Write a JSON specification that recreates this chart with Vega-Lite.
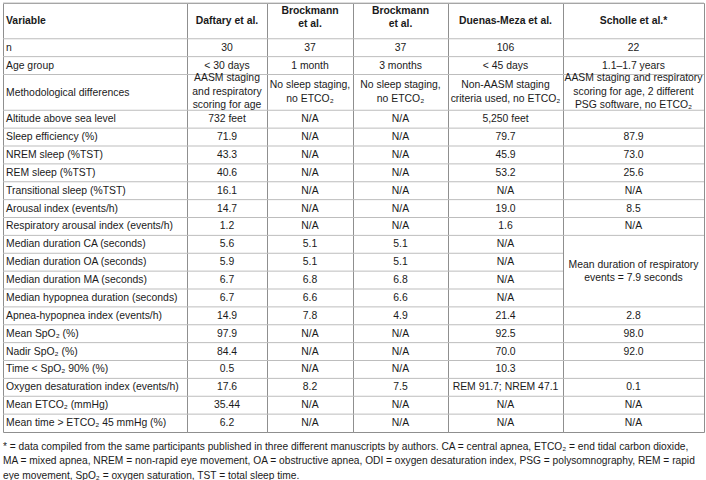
{
  "$schema": "https://vega.github.io/schema/vega-lite/v6.json",
  "padding": {"left": 2, "top": 2, "right": 0, "bottom": 0},
  "spacing": 0,
  "bounds": "flush",
  "config": {
    "view": {"stroke": "#8f8f8f", "strokeWidth": 1},
    "text": {"font": "Liberation Sans, Arial, sans-serif", "fontSize": 10.4, "color": "#1a1a1a", "lineBreak": "\n", "lineHeight": 13.3, "baseline": "middle"},
    "rule": {"color": "#bdbdbd", "strokeWidth": 1}
  },
  "title": {
    "text": [
      "* = data compiled from the same participants published in three different manuscripts by authors. CA = central apnea, ETCO₂ = end tidal carbon dioxide,",
      "MA = mixed apnea, NREM = non-rapid eye movement, OA = obstructive apnea, ODI = oxygen desaturation index, PSG = polysomnography, REM = rapid",
      "eye movement, SpO₂ = oxygen saturation, TST = total sleep time."
    ],
    "orient": "bottom", "anchor": "start", "frame": "group",
    "font": "Liberation Sans, Arial, sans-serif",
    "fontSize": 10.2, "fontWeight": "normal", "color": "#1a1a1a",
    "lineHeight": 14.6, "offset": 9, "baseline": "top"
  },
  "datasets": {
    "cells": [
      {"Variable": "Variable", "Study": "D", "Value": "Daftary et al."},
      {"Variable": "Variable", "Study": "B1", "Value": "Brockmann\net al."},
      {"Variable": "Variable", "Study": "B2", "Value": "Brockmann\net al."},
      {"Variable": "Variable", "Study": "DM", "Value": "Duenas-Meza et al."},
      {"Variable": "Variable", "Study": "S", "Value": "Scholle et al.*"},
      {"Variable": "n", "Study": "D", "Value": "30"},
      {"Variable": "n", "Study": "B1", "Value": "37"},
      {"Variable": "n", "Study": "B2", "Value": "37"},
      {"Variable": "n", "Study": "DM", "Value": "106"},
      {"Variable": "n", "Study": "S", "Value": "22"},
      {"Variable": "Age group", "Study": "D", "Value": "< 30 days"},
      {"Variable": "Age group", "Study": "B1", "Value": "1 month"},
      {"Variable": "Age group", "Study": "B2", "Value": "3 months"},
      {"Variable": "Age group", "Study": "DM", "Value": "< 45 days"},
      {"Variable": "Age group", "Study": "S", "Value": "1.1–1.7 years"},
      {"Variable": "Methodological differences", "Study": "D", "Value": "AASM staging\nand respiratory\nscoring for age"},
      {"Variable": "Methodological differences", "Study": "B1", "Value": "No sleep staging,\nno ETCO₂"},
      {"Variable": "Methodological differences", "Study": "B2", "Value": "No sleep staging,\nno ETCO₂"},
      {"Variable": "Methodological differences", "Study": "DM", "Value": "Non-AASM staging\ncriteria used, no ETCO₂"},
      {"Variable": "Methodological differences", "Study": "S", "Value": "AASM staging and respiratory\nscoring for age, 2 different\nPSG software, no ETCO₂"},
      {"Variable": "Altitude above sea level", "Study": "D", "Value": "732 feet"},
      {"Variable": "Altitude above sea level", "Study": "B1", "Value": "N/A"},
      {"Variable": "Altitude above sea level", "Study": "B2", "Value": "N/A"},
      {"Variable": "Altitude above sea level", "Study": "DM", "Value": "5,250 feet"},
      {"Variable": "Altitude above sea level", "Study": "S", "Value": ""},
      {"Variable": "Sleep efficiency (%)", "Study": "D", "Value": "71.9"},
      {"Variable": "Sleep efficiency (%)", "Study": "B1", "Value": "N/A"},
      {"Variable": "Sleep efficiency (%)", "Study": "B2", "Value": "N/A"},
      {"Variable": "Sleep efficiency (%)", "Study": "DM", "Value": "79.7"},
      {"Variable": "Sleep efficiency (%)", "Study": "S", "Value": "87.9"},
      {"Variable": "NREM sleep (%TST)", "Study": "D", "Value": "43.3"},
      {"Variable": "NREM sleep (%TST)", "Study": "B1", "Value": "N/A"},
      {"Variable": "NREM sleep (%TST)", "Study": "B2", "Value": "N/A"},
      {"Variable": "NREM sleep (%TST)", "Study": "DM", "Value": "45.9"},
      {"Variable": "NREM sleep (%TST)", "Study": "S", "Value": "73.0"},
      {"Variable": "REM sleep (%TST)", "Study": "D", "Value": "40.6"},
      {"Variable": "REM sleep (%TST)", "Study": "B1", "Value": "N/A"},
      {"Variable": "REM sleep (%TST)", "Study": "B2", "Value": "N/A"},
      {"Variable": "REM sleep (%TST)", "Study": "DM", "Value": "53.2"},
      {"Variable": "REM sleep (%TST)", "Study": "S", "Value": "25.6"},
      {"Variable": "Transitional sleep (%TST)", "Study": "D", "Value": "16.1"},
      {"Variable": "Transitional sleep (%TST)", "Study": "B1", "Value": "N/A"},
      {"Variable": "Transitional sleep (%TST)", "Study": "B2", "Value": "N/A"},
      {"Variable": "Transitional sleep (%TST)", "Study": "DM", "Value": "N/A"},
      {"Variable": "Transitional sleep (%TST)", "Study": "S", "Value": "N/A"},
      {"Variable": "Arousal index (events/h)", "Study": "D", "Value": "14.7"},
      {"Variable": "Arousal index (events/h)", "Study": "B1", "Value": "N/A"},
      {"Variable": "Arousal index (events/h)", "Study": "B2", "Value": "N/A"},
      {"Variable": "Arousal index (events/h)", "Study": "DM", "Value": "19.0"},
      {"Variable": "Arousal index (events/h)", "Study": "S", "Value": "8.5"},
      {"Variable": "Respiratory arousal index (events/h)", "Study": "D", "Value": "1.2"},
      {"Variable": "Respiratory arousal index (events/h)", "Study": "B1", "Value": "N/A"},
      {"Variable": "Respiratory arousal index (events/h)", "Study": "B2", "Value": "N/A"},
      {"Variable": "Respiratory arousal index (events/h)", "Study": "DM", "Value": "1.6"},
      {"Variable": "Respiratory arousal index (events/h)", "Study": "S", "Value": "N/A"},
      {"Variable": "Median duration CA (seconds)", "Study": "D", "Value": "5.6"},
      {"Variable": "Median duration CA (seconds)", "Study": "B1", "Value": "5.1"},
      {"Variable": "Median duration CA (seconds)", "Study": "B2", "Value": "5.1"},
      {"Variable": "Median duration CA (seconds)", "Study": "DM", "Value": "N/A"},
      {"Variable": "Median duration CA (seconds)", "Study": "S", "Value": ""},
      {"Variable": "Median duration OA (seconds)", "Study": "D", "Value": "5.9"},
      {"Variable": "Median duration OA (seconds)", "Study": "B1", "Value": "5.1"},
      {"Variable": "Median duration OA (seconds)", "Study": "B2", "Value": "5.1"},
      {"Variable": "Median duration OA (seconds)", "Study": "DM", "Value": "N/A"},
      {"Variable": "Median duration OA (seconds)", "Study": "S", "Value": "Mean duration of respiratory\nevents = 7.9 seconds"},
      {"Variable": "Median duration MA (seconds)", "Study": "D", "Value": "6.7"},
      {"Variable": "Median duration MA (seconds)", "Study": "B1", "Value": "6.8"},
      {"Variable": "Median duration MA (seconds)", "Study": "B2", "Value": "6.8"},
      {"Variable": "Median duration MA (seconds)", "Study": "DM", "Value": "N/A"},
      {"Variable": "Median hypopnea duration (seconds)", "Study": "D", "Value": "6.7"},
      {"Variable": "Median hypopnea duration (seconds)", "Study": "B1", "Value": "6.6"},
      {"Variable": "Median hypopnea duration (seconds)", "Study": "B2", "Value": "6.6"},
      {"Variable": "Median hypopnea duration (seconds)", "Study": "DM", "Value": "N/A"},
      {"Variable": "Apnea-hypopnea index (events/h)", "Study": "D", "Value": "14.9"},
      {"Variable": "Apnea-hypopnea index (events/h)", "Study": "B1", "Value": "7.8"},
      {"Variable": "Apnea-hypopnea index (events/h)", "Study": "B2", "Value": "4.9"},
      {"Variable": "Apnea-hypopnea index (events/h)", "Study": "DM", "Value": "21.4"},
      {"Variable": "Apnea-hypopnea index (events/h)", "Study": "S", "Value": "2.8"},
      {"Variable": "Mean SpO₂ (%)", "Study": "D", "Value": "97.9"},
      {"Variable": "Mean SpO₂ (%)", "Study": "B1", "Value": "N/A"},
      {"Variable": "Mean SpO₂ (%)", "Study": "B2", "Value": "N/A"},
      {"Variable": "Mean SpO₂ (%)", "Study": "DM", "Value": "92.5"},
      {"Variable": "Mean SpO₂ (%)", "Study": "S", "Value": "98.0"},
      {"Variable": "Nadir SpO₂ (%)", "Study": "D", "Value": "84.4"},
      {"Variable": "Nadir SpO₂ (%)", "Study": "B1", "Value": "N/A"},
      {"Variable": "Nadir SpO₂ (%)", "Study": "B2", "Value": "N/A"},
      {"Variable": "Nadir SpO₂ (%)", "Study": "DM", "Value": "70.0"},
      {"Variable": "Nadir SpO₂ (%)", "Study": "S", "Value": "92.0"},
      {"Variable": "Time < SpO₂ 90% (%)", "Study": "D", "Value": "0.5"},
      {"Variable": "Time < SpO₂ 90% (%)", "Study": "B1", "Value": "N/A"},
      {"Variable": "Time < SpO₂ 90% (%)", "Study": "B2", "Value": "N/A"},
      {"Variable": "Time < SpO₂ 90% (%)", "Study": "DM", "Value": "10.3"},
      {"Variable": "Time < SpO₂ 90% (%)", "Study": "S", "Value": ""},
      {"Variable": "Oxygen desaturation index (events/h)", "Study": "D", "Value": "17.6"},
      {"Variable": "Oxygen desaturation index (events/h)", "Study": "B1", "Value": "8.2"},
      {"Variable": "Oxygen desaturation index (events/h)", "Study": "B2", "Value": "7.5"},
      {"Variable": "Oxygen desaturation index (events/h)", "Study": "DM", "Value": "REM 91.7; NREM 47.1"},
      {"Variable": "Oxygen desaturation index (events/h)", "Study": "S", "Value": "0.1"},
      {"Variable": "Mean ETCO₂ (mmHg)", "Study": "D", "Value": "35.44"},
      {"Variable": "Mean ETCO₂ (mmHg)", "Study": "B1", "Value": "N/A"},
      {"Variable": "Mean ETCO₂ (mmHg)", "Study": "B2", "Value": "N/A"},
      {"Variable": "Mean ETCO₂ (mmHg)", "Study": "DM", "Value": "N/A"},
      {"Variable": "Mean ETCO₂ (mmHg)", "Study": "S", "Value": "N/A"},
      {"Variable": "Mean time > ETCO₂ 45 mmHg (%)", "Study": "D", "Value": "6.2"},
      {"Variable": "Mean time > ETCO₂ 45 mmHg (%)", "Study": "B1", "Value": "N/A"},
      {"Variable": "Mean time > ETCO₂ 45 mmHg (%)", "Study": "B2", "Value": "N/A"},
      {"Variable": "Mean time > ETCO₂ 45 mmHg (%)", "Study": "DM", "Value": "N/A"},
      {"Variable": "Mean time > ETCO₂ 45 mmHg (%)", "Study": "S", "Value": "N/A"}
    ]
  },
  "hconcat": [
    {
      "width": 184, "height": 429,
      "data": {"name": "cells"},
      "transform": [{"filter": "datum.Study === 'D'"}],
      "encoding": {
        "y": {"field": "Variable", "type": "nominal", "axis": null,
          "scale": {"type": "band", "paddingInner": 0, "paddingOuter": 0, "domain": ["Variable", "Variable ", "n", "Age group", "Methodological differences", "Methodological differences ", "Altitude above sea level", "Sleep efficiency (%)", "NREM sleep (%TST)", "REM sleep (%TST)", "Transitional sleep (%TST)", "Arousal index (events/h)", "Respiratory arousal index (events/h)", "Median duration CA (seconds)", "Median duration OA (seconds)", "Median duration MA (seconds)", "Median hypopnea duration (seconds)", "Apnea-hypopnea index (events/h)", "Mean SpO₂ (%)", "Nadir SpO₂ (%)", "Time < SpO₂ 90% (%)", "Oxygen desaturation index (events/h)", "Mean ETCO₂ (mmHg)", "Mean time > ETCO₂ 45 mmHg (%)"]}},
        "x": {"datum": 0, "type": "quantitative", "axis": null, "scale": {"domain": [0, 1]}}
      },
      "layer": [
        {"mark": {"type": "rule"}, "encoding": {"x": null, "y": {"field": "Variable", "type": "nominal", "bandPosition": 0}}},
        {"transform": [{"filter": "datum.Variable !== 'Variable' && datum.Variable !== 'Methodological differences'"}],
         "mark": {"type": "text", "align": "left", "dx": 3}, "encoding": {"text": {"field": "Variable"}}},
        {"transform": [{"filter": "datum.Variable === 'Variable'"}],
         "mark": {"type": "text", "align": "left", "dx": 3, "fontWeight": "bold"},
         "encoding": {"text": {"field": "Variable"}, "y": {"field": "Variable", "type": "nominal", "bandPosition": 1}}},
        {"transform": [{"filter": "datum.Variable === 'Methodological differences'"}],
         "mark": {"type": "text", "align": "left", "dx": 3},
         "encoding": {"text": {"field": "Variable"}, "y": {"field": "Variable", "type": "nominal", "bandPosition": 1.03}}}
      ]
    },
    {
      "width": 80, "height": 429,
      "data": {"name": "cells"},
      "transform": [{"filter": "datum.Study === 'D'"}],
      "encoding": {
        "y": {"field": "Variable", "type": "nominal", "axis": null,
          "scale": {"type": "band", "paddingInner": 0, "paddingOuter": 0, "domain": ["Variable", "Variable ", "n", "Age group", "Methodological differences", "Methodological differences ", "Altitude above sea level", "Sleep efficiency (%)", "NREM sleep (%TST)", "REM sleep (%TST)", "Transitional sleep (%TST)", "Arousal index (events/h)", "Respiratory arousal index (events/h)", "Median duration CA (seconds)", "Median duration OA (seconds)", "Median duration MA (seconds)", "Median hypopnea duration (seconds)", "Apnea-hypopnea index (events/h)", "Mean SpO₂ (%)", "Nadir SpO₂ (%)", "Time < SpO₂ 90% (%)", "Oxygen desaturation index (events/h)", "Mean ETCO₂ (mmHg)", "Mean time > ETCO₂ 45 mmHg (%)"]}}
      },
      "layer": [
        {"mark": {"type": "rule"}, "encoding": {"y": {"field": "Variable", "type": "nominal", "bandPosition": 0}}},
        {"transform": [{"filter": "datum.Variable !== 'Variable' && datum.Variable !== 'Methodological differences'"}],
         "mark": {"type": "text"}, "encoding": {"text": {"field": "Value"}}},
        {"transform": [{"filter": "datum.Variable === 'Variable'"}],
         "mark": {"type": "text", "fontWeight": "bold"},
         "encoding": {"text": {"field": "Value"}, "y": {"field": "Variable", "type": "nominal", "bandPosition": 1}}},
        {"transform": [{"filter": "datum.Variable === 'Methodological differences'"}],
         "mark": {"type": "text"},
         "encoding": {"text": {"field": "Value"}, "y": {"field": "Variable", "type": "nominal", "bandPosition": 0.22}}}
      ]
    },
    {
      "width": 86, "height": 429,
      "data": {"name": "cells"},
      "transform": [{"filter": "datum.Study === 'B1'"}],
      "encoding": {
        "y": {"field": "Variable", "type": "nominal", "axis": null,
          "scale": {"type": "band", "paddingInner": 0, "paddingOuter": 0, "domain": ["Variable", "Variable ", "n", "Age group", "Methodological differences", "Methodological differences ", "Altitude above sea level", "Sleep efficiency (%)", "NREM sleep (%TST)", "REM sleep (%TST)", "Transitional sleep (%TST)", "Arousal index (events/h)", "Respiratory arousal index (events/h)", "Median duration CA (seconds)", "Median duration OA (seconds)", "Median duration MA (seconds)", "Median hypopnea duration (seconds)", "Apnea-hypopnea index (events/h)", "Mean SpO₂ (%)", "Nadir SpO₂ (%)", "Time < SpO₂ 90% (%)", "Oxygen desaturation index (events/h)", "Mean ETCO₂ (mmHg)", "Mean time > ETCO₂ 45 mmHg (%)"]}}
      },
      "layer": [
        {"mark": {"type": "rule"}, "encoding": {"y": {"field": "Variable", "type": "nominal", "bandPosition": 0}}},
        {"transform": [{"filter": "datum.Variable !== 'Variable' && datum.Variable !== 'Methodological differences'"}],
         "mark": {"type": "text"}, "encoding": {"text": {"field": "Value"}}},
        {"transform": [{"filter": "datum.Variable === 'Variable'"}],
         "mark": {"type": "text", "fontWeight": "bold"},
         "encoding": {"text": {"field": "Value"}, "y": {"field": "Variable", "type": "nominal", "bandPosition": 0.45}}},
        {"transform": [{"filter": "datum.Variable === 'Methodological differences'"}],
         "mark": {"type": "text"},
         "encoding": {"text": {"field": "Value"}, "y": {"field": "Variable", "type": "nominal", "bandPosition": 0.6}}}
      ]
    },
    {
      "width": 95, "height": 429,
      "data": {"name": "cells"},
      "transform": [{"filter": "datum.Study === 'B2'"}],
      "encoding": {
        "y": {"field": "Variable", "type": "nominal", "axis": null,
          "scale": {"type": "band", "paddingInner": 0, "paddingOuter": 0, "domain": ["Variable", "Variable ", "n", "Age group", "Methodological differences", "Methodological differences ", "Altitude above sea level", "Sleep efficiency (%)", "NREM sleep (%TST)", "REM sleep (%TST)", "Transitional sleep (%TST)", "Arousal index (events/h)", "Respiratory arousal index (events/h)", "Median duration CA (seconds)", "Median duration OA (seconds)", "Median duration MA (seconds)", "Median hypopnea duration (seconds)", "Apnea-hypopnea index (events/h)", "Mean SpO₂ (%)", "Nadir SpO₂ (%)", "Time < SpO₂ 90% (%)", "Oxygen desaturation index (events/h)", "Mean ETCO₂ (mmHg)", "Mean time > ETCO₂ 45 mmHg (%)"]}}
      },
      "layer": [
        {"mark": {"type": "rule"}, "encoding": {"y": {"field": "Variable", "type": "nominal", "bandPosition": 0}}},
        {"transform": [{"filter": "datum.Variable !== 'Variable' && datum.Variable !== 'Methodological differences'"}],
         "mark": {"type": "text"}, "encoding": {"text": {"field": "Value"}}},
        {"transform": [{"filter": "datum.Variable === 'Variable'"}],
         "mark": {"type": "text", "fontWeight": "bold"},
         "encoding": {"text": {"field": "Value"}, "y": {"field": "Variable", "type": "nominal", "bandPosition": 0.45}}},
        {"transform": [{"filter": "datum.Variable === 'Methodological differences'"}],
         "mark": {"type": "text"},
         "encoding": {"text": {"field": "Value"}, "y": {"field": "Variable", "type": "nominal", "bandPosition": 0.6}}}
      ]
    },
    {
      "width": 115, "height": 429,
      "data": {"name": "cells"},
      "transform": [{"filter": "datum.Study === 'DM'"}],
      "encoding": {
        "y": {"field": "Variable", "type": "nominal", "axis": null,
          "scale": {"type": "band", "paddingInner": 0, "paddingOuter": 0, "domain": ["Variable", "Variable ", "n", "Age group", "Methodological differences", "Methodological differences ", "Altitude above sea level", "Sleep efficiency (%)", "NREM sleep (%TST)", "REM sleep (%TST)", "Transitional sleep (%TST)", "Arousal index (events/h)", "Respiratory arousal index (events/h)", "Median duration CA (seconds)", "Median duration OA (seconds)", "Median duration MA (seconds)", "Median hypopnea duration (seconds)", "Apnea-hypopnea index (events/h)", "Mean SpO₂ (%)", "Nadir SpO₂ (%)", "Time < SpO₂ 90% (%)", "Oxygen desaturation index (events/h)", "Mean ETCO₂ (mmHg)", "Mean time > ETCO₂ 45 mmHg (%)"]}}
      },
      "layer": [
        {"mark": {"type": "rule"}, "encoding": {"y": {"field": "Variable", "type": "nominal", "bandPosition": 0}}},
        {"transform": [{"filter": "datum.Variable !== 'Variable' && datum.Variable !== 'Methodological differences'"}],
         "mark": {"type": "text"}, "encoding": {"text": {"field": "Value"}}},
        {"transform": [{"filter": "datum.Variable === 'Variable'"}],
         "mark": {"type": "text", "fontWeight": "bold"},
         "encoding": {"text": {"field": "Value"}, "y": {"field": "Variable", "type": "nominal", "bandPosition": 1}}},
        {"transform": [{"filter": "datum.Variable === 'Methodological differences'"}],
         "mark": {"type": "text"},
         "encoding": {"text": {"field": "Value"}, "y": {"field": "Variable", "type": "nominal", "bandPosition": 0.6}}}
      ]
    },
    {
      "width": 141, "height": 429,
      "data": {"name": "cells"},
      "transform": [{"filter": "datum.Study === 'S'"}],
      "encoding": {
        "y": {"field": "Variable", "type": "nominal", "axis": null,
          "scale": {"type": "band", "paddingInner": 0, "paddingOuter": 0, "domain": ["Variable", "Variable ", "n", "Age group", "Methodological differences", "Methodological differences ", "Altitude above sea level", "Sleep efficiency (%)", "NREM sleep (%TST)", "REM sleep (%TST)", "Transitional sleep (%TST)", "Arousal index (events/h)", "Respiratory arousal index (events/h)", "Median duration CA (seconds)", "Median duration OA (seconds)", "Median duration MA (seconds)", "Median hypopnea duration (seconds)", "Apnea-hypopnea index (events/h)", "Mean SpO₂ (%)", "Nadir SpO₂ (%)", "Time < SpO₂ 90% (%)", "Oxygen desaturation index (events/h)", "Mean ETCO₂ (mmHg)", "Mean time > ETCO₂ 45 mmHg (%)"]}}
      },
      "layer": [
        {"transform": [{"filter": "datum.Variable !== 'Median duration OA (seconds)'"}],
         "mark": {"type": "rule"}, "encoding": {"y": {"field": "Variable", "type": "nominal", "bandPosition": 0}}},
        {"transform": [{"filter": "datum.Variable !== 'Variable' && datum.Variable !== 'Methodological differences' && datum.Variable !== 'Median duration OA (seconds)'"}],
         "mark": {"type": "text"}, "encoding": {"text": {"field": "Value"}}},
        {"transform": [{"filter": "datum.Variable === 'Variable'"}],
         "mark": {"type": "text", "fontWeight": "bold"},
         "encoding": {"text": {"field": "Value"}, "y": {"field": "Variable", "type": "nominal", "bandPosition": 1}}},
        {"transform": [{"filter": "datum.Variable === 'Methodological differences'"}],
         "mark": {"type": "text"},
         "encoding": {"text": {"field": "Value"}, "y": {"field": "Variable", "type": "nominal", "bandPosition": 0.22}}},
        {"transform": [{"filter": "datum.Variable === 'Median duration OA (seconds)'"}],
         "mark": {"type": "text"},
         "encoding": {"text": {"field": "Value"}, "y": {"field": "Variable", "type": "nominal", "bandPosition": 0.63}}}
      ]
    }
  ]
}
